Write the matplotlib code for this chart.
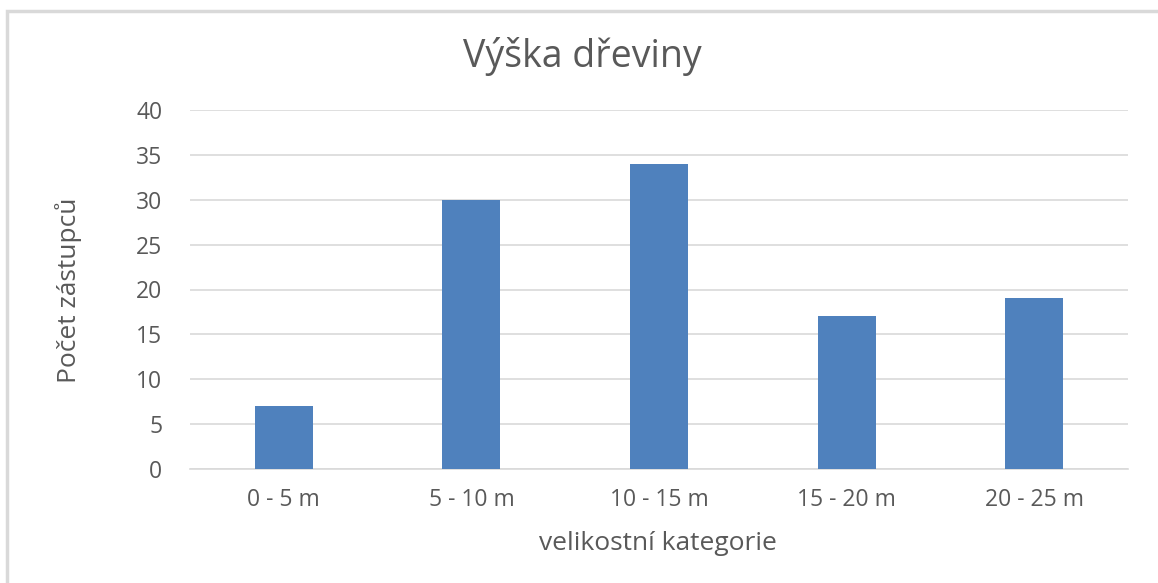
import matplotlib.pyplot as plt
from matplotlib.patches import Rectangle

categories = ['0 - 5 m', '5 - 10 m', '10 - 15 m', '15 - 20 m', '20 - 25 m']
counts = [7, 30, 34, 17, 19]
yticks = [0, 5, 10, 15, 20, 25, 30, 35, 40]

text_col = '#595959'
plt.rcParams['font.family'] = ['Open Sans', 'DejaVu Sans']

W, H = 1158, 583
fig = plt.figure(figsize=(W / 100, H / 100), dpi=100)
ax = fig.add_axes([190 / W, 1 - 469 / H, (1128 - 190) / W, (469 - 110) / H])

x = range(len(categories))
ax.bar(x, counts, width=0.31, color='#4F81BD', zorder=3)

ax.set_xlim(-0.5, len(categories) - 0.5)
ax.set_ylim(0, 40)
ax.set_yticks(yticks)
ax.set_xticks(list(x))
ax.set_xticklabels(categories)
ax.grid(axis='y', color='#D9D9D9', linewidth=1.2, zorder=0)
for s in ['top', 'right', 'left']:
    ax.spines[s].set_visible(False)
ax.spines['bottom'].set_color('#D9D9D9')
ax.spines['bottom'].set_linewidth(1.2)
ax.tick_params(length=0, labelsize=16.5, colors=text_col)
ax.tick_params(axis='x', pad=14)
ax.tick_params(axis='y', pad=20)

fig.text(658 / W, 1 - 543 / H, 'velikostní kategorie', fontsize=19,
         color=text_col, ha='center', va='center')
fig.text(68 / W, 1 - 290 / H, 'Počet zástupců', fontsize=19,
         color=text_col, ha='center', va='center', rotation=90)
fig.text(0.5 * (460 + 705) / W, 1 - 57 / H, 'Výška dřeviny', fontsize=27,
         color=text_col, ha='center', va='center')

# chart border
fig.patches.append(Rectangle((7 / W, -0.1), 1.2, 1 - 11 / H + 0.1,
                             transform=fig.transFigure, fill=False,
                             edgecolor='#D9D9D9', linewidth=2.5))

fig.savefig('out.png', dpi=100)
